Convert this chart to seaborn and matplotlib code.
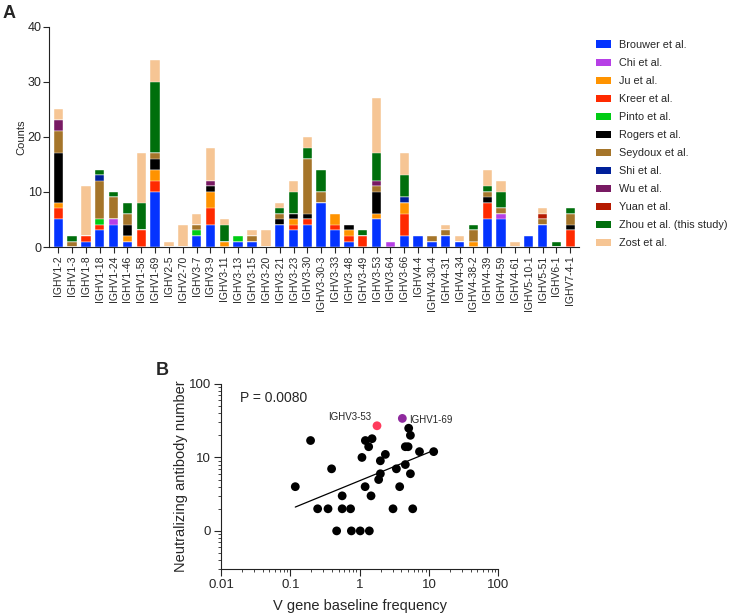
import numpy as np
import pandas as pd
import matplotlib
matplotlib.use("Agg")
import matplotlib.pyplot as plt
from matplotlib.patches import Patch
from matplotlib.ticker import LogLocator, NullFormatter
import seaborn as sns

# ---- panel A data: counts per V gene and per study ----
genes = ['IGHV1-2', 'IGHV1-3', 'IGHV1-8', 'IGHV1-18', 'IGHV1-24', 'IGHV1-46', 'IGHV1-58',
         'IGHV1-69', 'IGHV2-5', 'IGHV2-70', 'IGHV3-7', 'IGHV3-9', 'IGHV3-11', 'IGHV3-13',
         'IGHV3-15', 'IGHV3-20', 'IGHV3-21', 'IGHV3-23', 'IGHV3-30', 'IGHV3-30-3', 'IGHV3-33',
         'IGHV3-48', 'IGHV3-49', 'IGHV3-53', 'IGHV3-64', 'IGHV3-66', 'IGHV4-4', 'IGHV4-30-4',
         'IGHV4-31', 'IGHV4-34', 'IGHV4-38-2', 'IGHV4-39', 'IGHV4-59', 'IGHV4-61', 'IGHV5-10-1',
         'IGHV5-51', 'IGHV6-1', 'IGHV7-4-1']

brouwer = [5, 0, 1, 3, 4, 1, 0, 10, 0, 0, 2, 4, 0, 1, 1, 0, 4, 3, 4, 8, 3, 1, 0, 5, 0, 2, 2, 1, 2, 1, 0, 5, 5, 0, 2, 4, 0, 0]
chi     = [0, 0, 0, 0, 1, 0, 0, 0, 0, 0, 0, 0, 0, 0, 0, 0, 0, 0, 0, 0, 0, 0, 0, 0, 1, 0, 0, 0, 0, 0, 0, 0, 1, 0, 0, 0, 0, 0]
kreer   = [2, 0, 1, 1, 0, 0, 3, 2, 0, 0, 0, 3, 0, 0, 0, 0, 0, 1, 1, 0, 1, 1, 2, 0, 0, 4, 0, 0, 0, 0, 0, 3, 0, 0, 0, 0, 0, 3]
ju      = [1, 0, 0, 0, 0, 1, 0, 2, 0, 0, 0, 3, 1, 0, 0, 0, 0, 1, 0, 0, 2, 1, 0, 1, 0, 2, 0, 0, 0, 0, 1, 0, 0, 0, 0, 0, 0, 0]
pinto   = [0, 0, 0, 1, 0, 0, 0, 0, 0, 0, 1, 0, 0, 1, 0, 0, 0, 0, 0, 0, 0, 0, 0, 0, 0, 0, 0, 0, 0, 0, 0, 0, 0, 0, 0, 0, 0, 0]
rogers  = [9, 0, 0, 0, 0, 2, 0, 2, 0, 0, 0, 1, 0, 0, 0, 0, 1, 1, 1, 0, 0, 1, 0, 4, 0, 0, 0, 0, 0, 0, 0, 1, 0, 0, 0, 0, 0, 1]
seydoux = [4, 1, 0, 7, 4, 2, 0, 1, 0, 0, 1, 0, 0, 0, 1, 0, 1, 0, 10, 2, 0, 0, 0, 1, 0, 0, 0, 1, 1, 0, 2, 1, 1, 0, 0, 1, 0, 2]
shi     = [0, 0, 0, 1, 0, 0, 0, 0, 0, 0, 0, 0, 0, 0, 0, 0, 0, 0, 0, 0, 0, 0, 0, 0, 0, 1, 0, 0, 0, 0, 0, 0, 0, 0, 0, 0, 0, 0]
wu      = [2, 0, 0, 0, 0, 0, 0, 0, 0, 0, 0, 1, 0, 0, 0, 0, 0, 0, 0, 0, 0, 0, 0, 1, 0, 0, 0, 0, 0, 0, 0, 0, 0, 0, 0, 0, 0, 0]
yuan    = [0, 0, 0, 0, 0, 0, 0, 0, 0, 0, 0, 0, 0, 0, 0, 0, 0, 0, 0, 0, 0, 0, 0, 0, 0, 0, 0, 0, 0, 0, 0, 0, 0, 0, 0, 1, 0, 0]
zhou    = [0, 1, 0, 1, 1, 2, 5, 13, 0, 0, 0, 0, 3, 0, 0, 0, 1, 4, 2, 4, 0, 0, 1, 5, 0, 4, 0, 0, 0, 0, 1, 1, 3, 0, 0, 0, 1, 1]
zost    = [2, 0, 9, 0, 0, 0, 9, 4, 1, 4, 2, 6, 1, 0, 1, 3, 1, 2, 2, 0, 0, 0, 0, 10, 0, 4, 0, 0, 1, 1, 0, 3, 2, 1, 0, 1, 0, 0]

# stacking order (bottom -> top) and legend order
stack_order = ['Brouwer et al.', 'Chi et al.', 'Kreer et al.', 'Ju et al.', 'Pinto et al.',
               'Rogers et al.', 'Seydoux et al.', 'Shi et al.', 'Wu et al.', 'Yuan et al.',
               'Zhou et al. (this study)', 'Zost et al.']
legend_order = ['Brouwer et al.', 'Chi et al.', 'Ju et al.', 'Kreer et al.', 'Pinto et al.',
                'Rogers et al.', 'Seydoux et al.', 'Shi et al.', 'Wu et al.', 'Yuan et al.',
                'Zhou et al. (this study)', 'Zost et al.']
study_counts = {'Brouwer et al.': brouwer, 'Chi et al.': chi, 'Kreer et al.': kreer,
                'Ju et al.': ju, 'Pinto et al.': pinto, 'Rogers et al.': rogers,
                'Seydoux et al.': seydoux, 'Shi et al.': shi, 'Wu et al.': wu,
                'Yuan et al.': yuan, 'Zhou et al. (this study)': zhou, 'Zost et al.': zost}
study_colors = {'Brouwer et al.': '#0433FF', 'Chi et al.': '#B63FE6', 'Ju et al.': '#FF9300',
                'Kreer et al.': '#FF2A00', 'Pinto et al.': '#00CC14', 'Rogers et al.': '#000000',
                'Seydoux et al.': '#A5752A', 'Shi et al.': '#00209A', 'Wu et al.': '#781A63',
                'Yuan et al.': '#B51A00', 'Zhou et al. (this study)': '#006F0C', 'Zost et al.': '#F6C594'}

# ---- panel B data: baseline frequency vs neutralizing antibody number ----
freq_x = [0.196, 0.118, 0.394, 0.56, 0.248, 0.35, 0.56, 0.74, 0.466, 0.76, 1.02, 1.38,
          1.21, 1.51, 1.35, 1.08, 2.35, 1.99, 1.99, 1.88, 1.2, 1.46, 5.1, 5.4, 4.56, 5.0,
          7.3, 11.7, 4.56, 3.39, 5.4, 3.78, 3.03, 5.83]
nab_y = [17, 4, 7, 3, 2, 2, 2, 2, 1, 1, 1, 1,
         17, 18, 14, 10, 11, 9, 6, 5, 4, 3, 25, 20, 14, 14,
         12, 12, 8, 7, 6, 4, 2, 2]
hl_genes = ['IGHV3-53', 'IGHV1-69']
hl_freq = [1.78, 4.13]
hl_nab = [27, 34]
hl_colors = ['#FF3B5C', '#8F2A9E']

sns.set_theme(style='ticks')
plt.rcParams['font.family'] = ['Liberation Sans', 'DejaVu Sans']

fig = plt.figure(figsize=(7.3, 6.14), dpi=100)

# ================= panel A =================
axa = fig.add_axes([0.0675, 0.5977, 0.726, 0.359])
cum = np.zeros(len(genes))
cum_layers = []
for s in stack_order:
    cum = cum + np.array(study_counts[s])
    cum_layers.append(cum.copy())
# draw tallest cumulative first so lower layers cover it
for s, c in reversed(list(zip(stack_order, cum_layers))):
    sns.barplot(x=genes, y=c, color=study_colors[s], width=0.68, saturation=1,
                errorbar=None, edgecolor='white', linewidth=0.3, ax=axa)

axa.set_xlim(-0.65, len(genes) - 0.35)
axa.set_ylim(0, 40)
axa.set_yticks([0, 10, 20, 30, 40])
axa.tick_params(axis='y', labelsize=9, length=4, width=0.8, pad=1.5)
axa.tick_params(axis='x', labelsize=7.5, length=4, width=0.8, rotation=90, pad=2)
axa.set_xlabel('')
axa.set_ylabel('Counts', fontsize=8, labelpad=1)
for sp in ['top', 'right']:
    axa.spines[sp].set_visible(False)
for sp in ['left', 'bottom']:
    axa.spines[sp].set_linewidth(0.8)
    axa.spines[sp].set_color('#222222')

handles = [Patch(facecolor=study_colors[s], edgecolor='none', label=s) for s in legend_order]
fig.legend(handles=handles, loc='upper left', bbox_to_anchor=(0.8165, 0.935),
           frameon=False, fontsize=7.8, handlelength=1.36, handleheight=0.65,
           labelspacing=0.74, handletextpad=0.72, borderpad=0, borderaxespad=0)

fig.text(0.003, 0.971, 'A', fontsize=13, fontweight='bold')

# ================= panel B =================
axb = fig.add_axes([0.3027, 0.0728, 0.3799, 0.3018])
sns.scatterplot(x=freq_x, y=nab_y, color='black', s=40, edgecolor='none', ax=axb, zorder=3)
sns.scatterplot(x=hl_freq, y=hl_nab, hue=hl_genes, palette=hl_colors, s=40,
                edgecolor='none', ax=axb, legend=False, zorder=3)

# log-log linear regression over all points
all_x = np.array(freq_x + hl_freq, dtype=float)
all_y = np.array(nab_y + hl_nab, dtype=float)
slope, icpt = np.polyfit(np.log10(all_x), np.log10(all_y), 1)
xfit = np.array([all_x.min(), all_x.max()])
yfit = 10 ** (icpt + slope * np.log10(xfit))
sns.lineplot(x=xfit, y=yfit, color='black', linewidth=0.9, ax=axb)

axb.set_xscale('log')
axb.set_yscale('log')
axb.set_xlim(0.01, 100)
axb.set_ylim(0.3, 100)
axb.set_xticks([0.01, 0.1, 1, 10, 100])
axb.set_xticklabels(['0.01', '0.1', '1', '10', '100'])
axb.set_yticks([1, 10, 100])
axb.set_yticklabels(['0', '10', '100'])
axb.xaxis.set_minor_locator(LogLocator(base=10, subs=np.arange(2, 10), numticks=20))
axb.yaxis.set_minor_locator(LogLocator(base=10, subs=np.arange(2, 10), numticks=20))
axb.xaxis.set_minor_formatter(NullFormatter())
axb.yaxis.set_minor_formatter(NullFormatter())
axb.tick_params(which='major', labelsize=9.5, length=5, width=0.8, pad=2)
axb.tick_params(which='minor', length=2.5, width=0.6)
for sp in ['top', 'right']:
    axb.spines[sp].set_visible(False)
for sp in ['left', 'bottom']:
    axb.spines[sp].set_linewidth(0.8)
    axb.spines[sp].set_color('#222222')
axb.set_xlabel('V gene baseline frequency', fontsize=10.5, labelpad=6)
axb.set_ylabel('Neutralizing antibody number', fontsize=10.5, labelpad=1)

axb.text(0.0685, 0.924, 'P = 0.0080', transform=axb.transAxes, fontsize=10,
         ha='left', va='center')
axb.annotate(hl_genes[0], (hl_freq[0], hl_nab[0]), xytext=(-4, 3), textcoords='offset points',
             ha='right', va='bottom', fontsize=7)
axb.annotate(hl_genes[1], (hl_freq[1], hl_nab[1]), xytext=(5, -1), textcoords='offset points',
             ha='left', va='center', fontsize=7)

fig.text(0.2137, 0.389, 'B', fontsize=13, fontweight='bold')

plt.savefig('out.png', dpi=100)
plt.close()
